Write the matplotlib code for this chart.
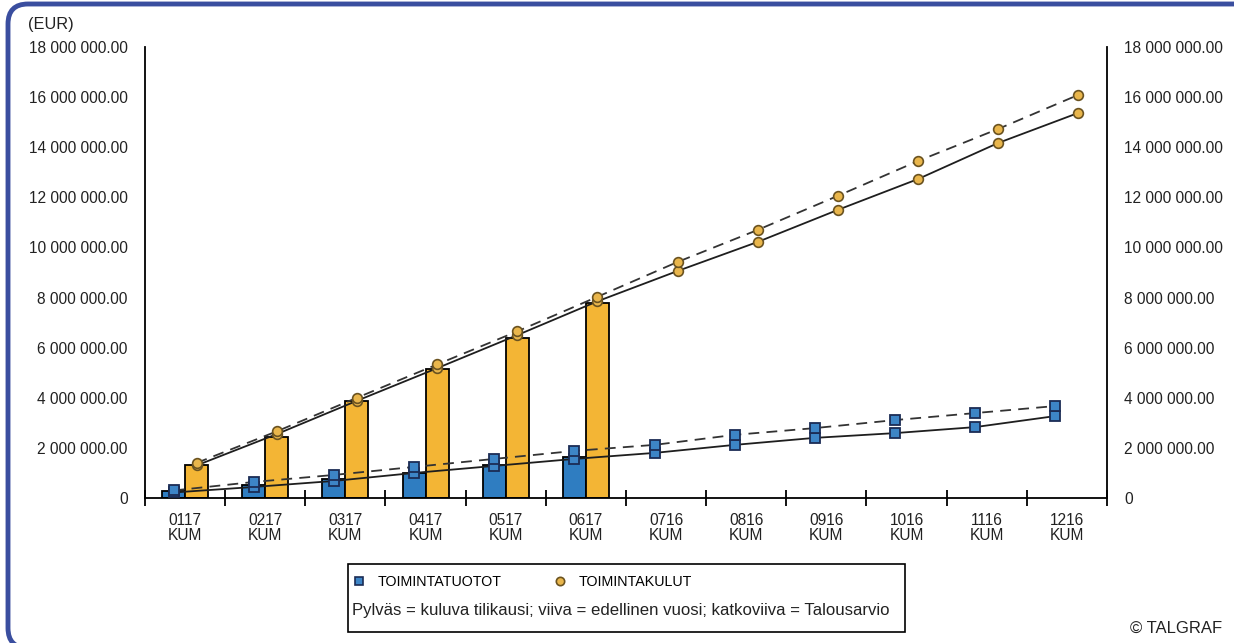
import numpy as np
import matplotlib
matplotlib.use("Agg")
import matplotlib.pyplot as plt
from matplotlib.patches import Rectangle, FancyBboxPatch
from matplotlib.lines import Line2D
from matplotlib.ticker import FuncFormatter

plt.rcParams['font.family'] = ['Liberation Sans', 'DejaVu Sans']

# data (EUR, cumulative)
kuukaudet = ["0117", "0217", "0317", "0417", "0517", "0617",
             "0716", "0816", "0916", "1016", "1116", "1216"]
# bars: current year (first six months only)
tuotot_kuluva = [0.29e6, 0.52e6, 0.76e6, 1.00e6, 1.32e6, 1.64e6]
kulut_kuluva = [1.32e6, 2.44e6, 3.87e6, 5.15e6, 6.37e6, 7.78e6]
# solid line: previous year
tuotot_edellinen = [0.22e6, 0.44e6, 0.68e6, 1.00e6, 1.28e6, 1.56e6,
                    1.80e6, 2.12e6, 2.40e6, 2.59e6, 2.83e6, 3.27e6]
kulut_edellinen = [1.30e6, 2.55e6, 3.88e6, 5.18e6, 6.50e6, 7.85e6,
                   9.06e6, 10.22e6, 11.50e6, 12.73e6, 14.17e6, 15.37e6]
# dashed line: budget
tuotot_budjetti = [0.30e6, 0.64e6, 0.92e6, 1.24e6, 1.56e6, 1.88e6,
                   2.12e6, 2.52e6, 2.79e6, 3.11e6, 3.39e6, 3.67e6]
kulut_budjetti = [1.40e6, 2.66e6, 4.00e6, 5.33e6, 6.65e6, 8.03e6,
                  9.42e6, 10.70e6, 12.06e6, 13.45e6, 14.73e6, 16.09e6]

sininen = "#2F7DC1"
oranssi = "#F3B535"
merkki_sin = "#3D85C6"
merkki_or = "#E9B64C"

fig = plt.figure(figsize=(12.34, 6.43), dpi=100)
ax = fig.add_axes([0.1175, 0.2255, 0.7795, 0.7014])

x = np.arange(len(kuukaudet))
w = 0.2875
n = len(tuotot_kuluva)

ax.bar(x[:n] - w/2, tuotot_kuluva, w, color=sininen, edgecolor="black", lw=1.3, zorder=2)
ax.bar(x[:n] + w/2, kulut_kuluva, w, color=oranssi, edgecolor="black", lw=1.3, zorder=2)

ax.plot(x - w/2, tuotot_edellinen, "-", color="#1e1e1e", lw=1.3, marker="s", ms=7,
        mfc=merkki_sin, mec="#1b2c55", mew=1.3, zorder=3)
ax.plot(x - w/2, tuotot_budjetti, "--", color="#333333", lw=1.3, dashes=(6, 4), marker="s", ms=7,
        mfc=merkki_sin, mec="#1b2c55", mew=1.3, zorder=3)
ax.plot(x + w/2, kulut_edellinen, "-", color="#1e1e1e", lw=1.3, marker="o", ms=7,
        mfc=merkki_or, mec="#6b5320", mew=1.2, zorder=3)
ax.plot(x + w/2, kulut_budjetti, "--", color="#333333", lw=1.3, dashes=(6, 4), marker="o", ms=7,
        mfc=merkki_or, mec="#6b5320", mew=1.2, zorder=3)

ax.set_xlim(-0.5, len(kuukaudet) - 0.5)
ax.set_ylim(0, 18e6)
ax.set_yticks(np.arange(0, 18e6 + 1, 2e6))
ax.yaxis.set_major_formatter(FuncFormatter(
    lambda v, p: "0" if v == 0 else f"{v:,.2f}".replace(",", " ")))
ax.tick_params(axis="y", left=False, right=False, labelleft=True, labelright=True,
               pad=9, labelsize=11.2, labelcolor="#222222")

ax.set_xticks(x)
ax.set_xticklabels([k + "\nKUM" for k in kuukaudet], fontsize=11.2, color="#222222",
                   linespacing=1.0)
ax.tick_params(axis="x", which="major", length=0, pad=11)
ax.set_xticks(np.arange(-0.5, len(kuukaudet), 1), minor=True)
ax.tick_params(axis="x", which="minor", direction="inout", length=12, width=1.3, color="black")

ax.spines["top"].set_visible(False)
for s in ["left", "right", "bottom"]:
    ax.spines[s].set_linewidth(1.3)

fig.text(28/1234, 1 - 24/643, "(EUR)", fontsize=11.8, color="#222222", va="center")
fig.text(1222/1234, 1 - 628/643, "© TALGRAF", fontsize=12, color="#222222",
         ha="right", va="center")

# legend
kahvat = [Line2D([], [], ls="none", marker="s", ms=6, mfc=merkki_sin, mec="#1b2c55", mew=1.2),
          Line2D([], [], ls="none", marker="o", ms=6, mfc=merkki_or, mec="#6b5320", mew=1.2)]
fig.legend(kahvat, ["TOIMINTATUOTOT", "TOIMINTAKULUT"], loc="center left",
           bbox_to_anchor=(339/1234, 1 - 582/643), ncol=2, frameon=False, fontsize=10.3,
           handlelength=1, handletextpad=0.8, columnspacing=3.6)
fig.text(352/1234, 1 - 611/643,
         "Pylväs = kuluva tilikausi; viiva = edellinen vuosi; katkoviiva = Talousarvio",
         fontsize=12.1, color="#222222", va="center")
fig.add_artist(Rectangle((348/1234, 1 - 632/643), (905 - 348)/1234, (632 - 564)/643,
                         transform=fig.transFigure, fill=False, ec="black", lw=1.2))

# rounded frame
fig.add_artist(FancyBboxPatch((0.08, -0.05), 12.6, 6.44,
                              boxstyle="round,pad=0,rounding_size=0.2",
                              transform=fig.dpi_scale_trans, fill=False,
                              ec="#3A4E9F", lw=3.5))

fig.savefig("out.png", dpi=100)
